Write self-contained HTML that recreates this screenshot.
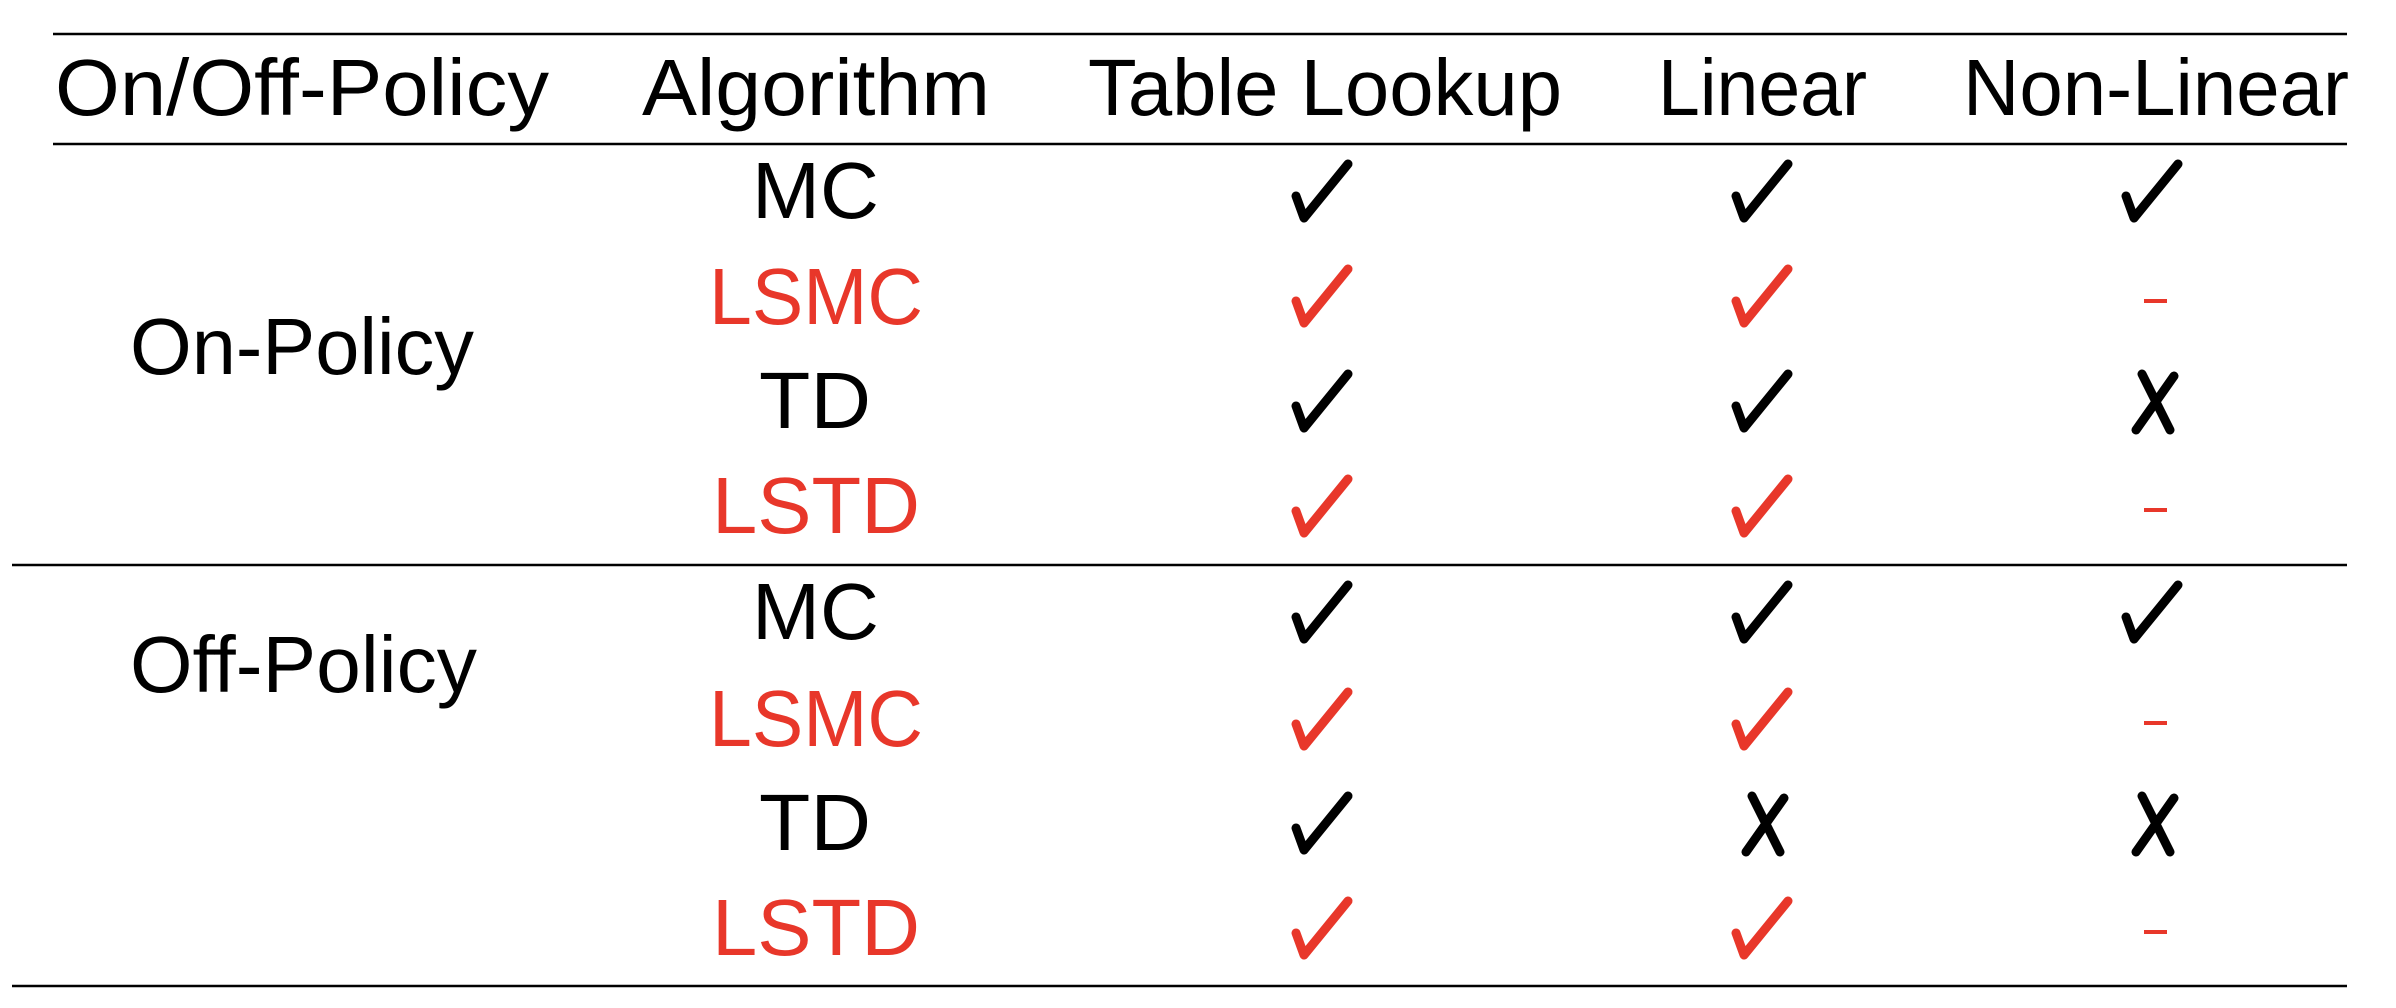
<!DOCTYPE html>
<html><head><meta charset="utf-8"><style>
html,body{margin:0;padding:0;background:#fff;}
svg{display:block;}
text{font-family:"Liberation Sans",sans-serif;font-size:80px;}
</style></head><body>
<svg width="2396" height="1008" viewBox="0 0 2396 1008" xmlns="http://www.w3.org/2000/svg">
<defs>
<g id="ck"><path d="M4,36 L12,58 L56,4" fill="none" stroke-width="9" stroke-linecap="round" stroke-linejoin="round"/></g>
<g id="xx"><path d="M12,2 L40,58 M44,4 L6,58" fill="none" stroke-width="9" stroke-linecap="round"/></g>
</defs>
<g stroke="#000" stroke-width="2.5">
<line x1="53" y1="34" x2="2347" y2="34"/>
<line x1="53" y1="144" x2="2347" y2="144"/>
<line x1="12" y1="565" x2="2347" y2="565"/>
<line x1="12" y1="986" x2="2347" y2="986"/>
</g>
<g fill="#000">
<text x="55" y="115" textLength="494" lengthAdjust="spacingAndGlyphs">On/Off-Policy</text>
<text x="642" y="115" textLength="348" lengthAdjust="spacingAndGlyphs">Algorithm</text>
<text x="1088" y="115" textLength="474" lengthAdjust="spacingAndGlyphs">Table Lookup</text>
<text x="1658" y="115" textLength="209" lengthAdjust="spacingAndGlyphs">Linear</text>
<text x="1963" y="115" textLength="386" lengthAdjust="spacingAndGlyphs">Non-Linear</text>
<text x="130" y="374" textLength="344" lengthAdjust="spacingAndGlyphs">On-Policy</text>
<text x="130" y="692" textLength="347" lengthAdjust="spacingAndGlyphs">Off-Policy</text>
<text x="752" y="218" textLength="127" lengthAdjust="spacingAndGlyphs">MC</text>
<text x="759" y="428" textLength="112" lengthAdjust="spacingAndGlyphs">TD</text>
<text x="752" y="639" textLength="127" lengthAdjust="spacingAndGlyphs">MC</text>
<text x="759" y="850" textLength="112" lengthAdjust="spacingAndGlyphs">TD</text>
</g>
<g fill="#e8372a">
<text x="709" y="324" textLength="214" lengthAdjust="spacingAndGlyphs">LSMC</text>
<text x="712" y="533" textLength="208" lengthAdjust="spacingAndGlyphs">LSTD</text>
<text x="709" y="746" textLength="214" lengthAdjust="spacingAndGlyphs">LSMC</text>
<text x="712" y="955" textLength="208" lengthAdjust="spacingAndGlyphs">LSTD</text>
<rect x="2144" y="299" width="23" height="4"/>
<rect x="2144" y="508" width="23" height="4"/>
<rect x="2144" y="721" width="23" height="4"/>
<rect x="2144" y="930" width="23" height="4"/>
</g>
<g stroke="#000">
<use href="#ck" x="1292" y="160"/><use href="#ck" x="1732" y="160"/><use href="#ck" x="2122" y="160"/>
<use href="#ck" x="1292" y="370"/><use href="#ck" x="1732" y="370"/><use href="#xx" x="2130" y="372"/>
<use href="#ck" x="1292" y="581"/><use href="#ck" x="1732" y="581"/><use href="#ck" x="2122" y="581"/>
<use href="#ck" x="1292" y="792"/><use href="#xx" x="1740" y="794"/><use href="#xx" x="2130" y="794"/>
</g>
<g stroke="#e8372a">
<use href="#ck" x="1292" y="265"/><use href="#ck" x="1732" y="265"/>
<use href="#ck" x="1292" y="475"/><use href="#ck" x="1732" y="475"/>
<use href="#ck" x="1292" y="688"/><use href="#ck" x="1732" y="688"/>
<use href="#ck" x="1292" y="897"/><use href="#ck" x="1732" y="897"/>
</g>
</svg>
</body></html>
